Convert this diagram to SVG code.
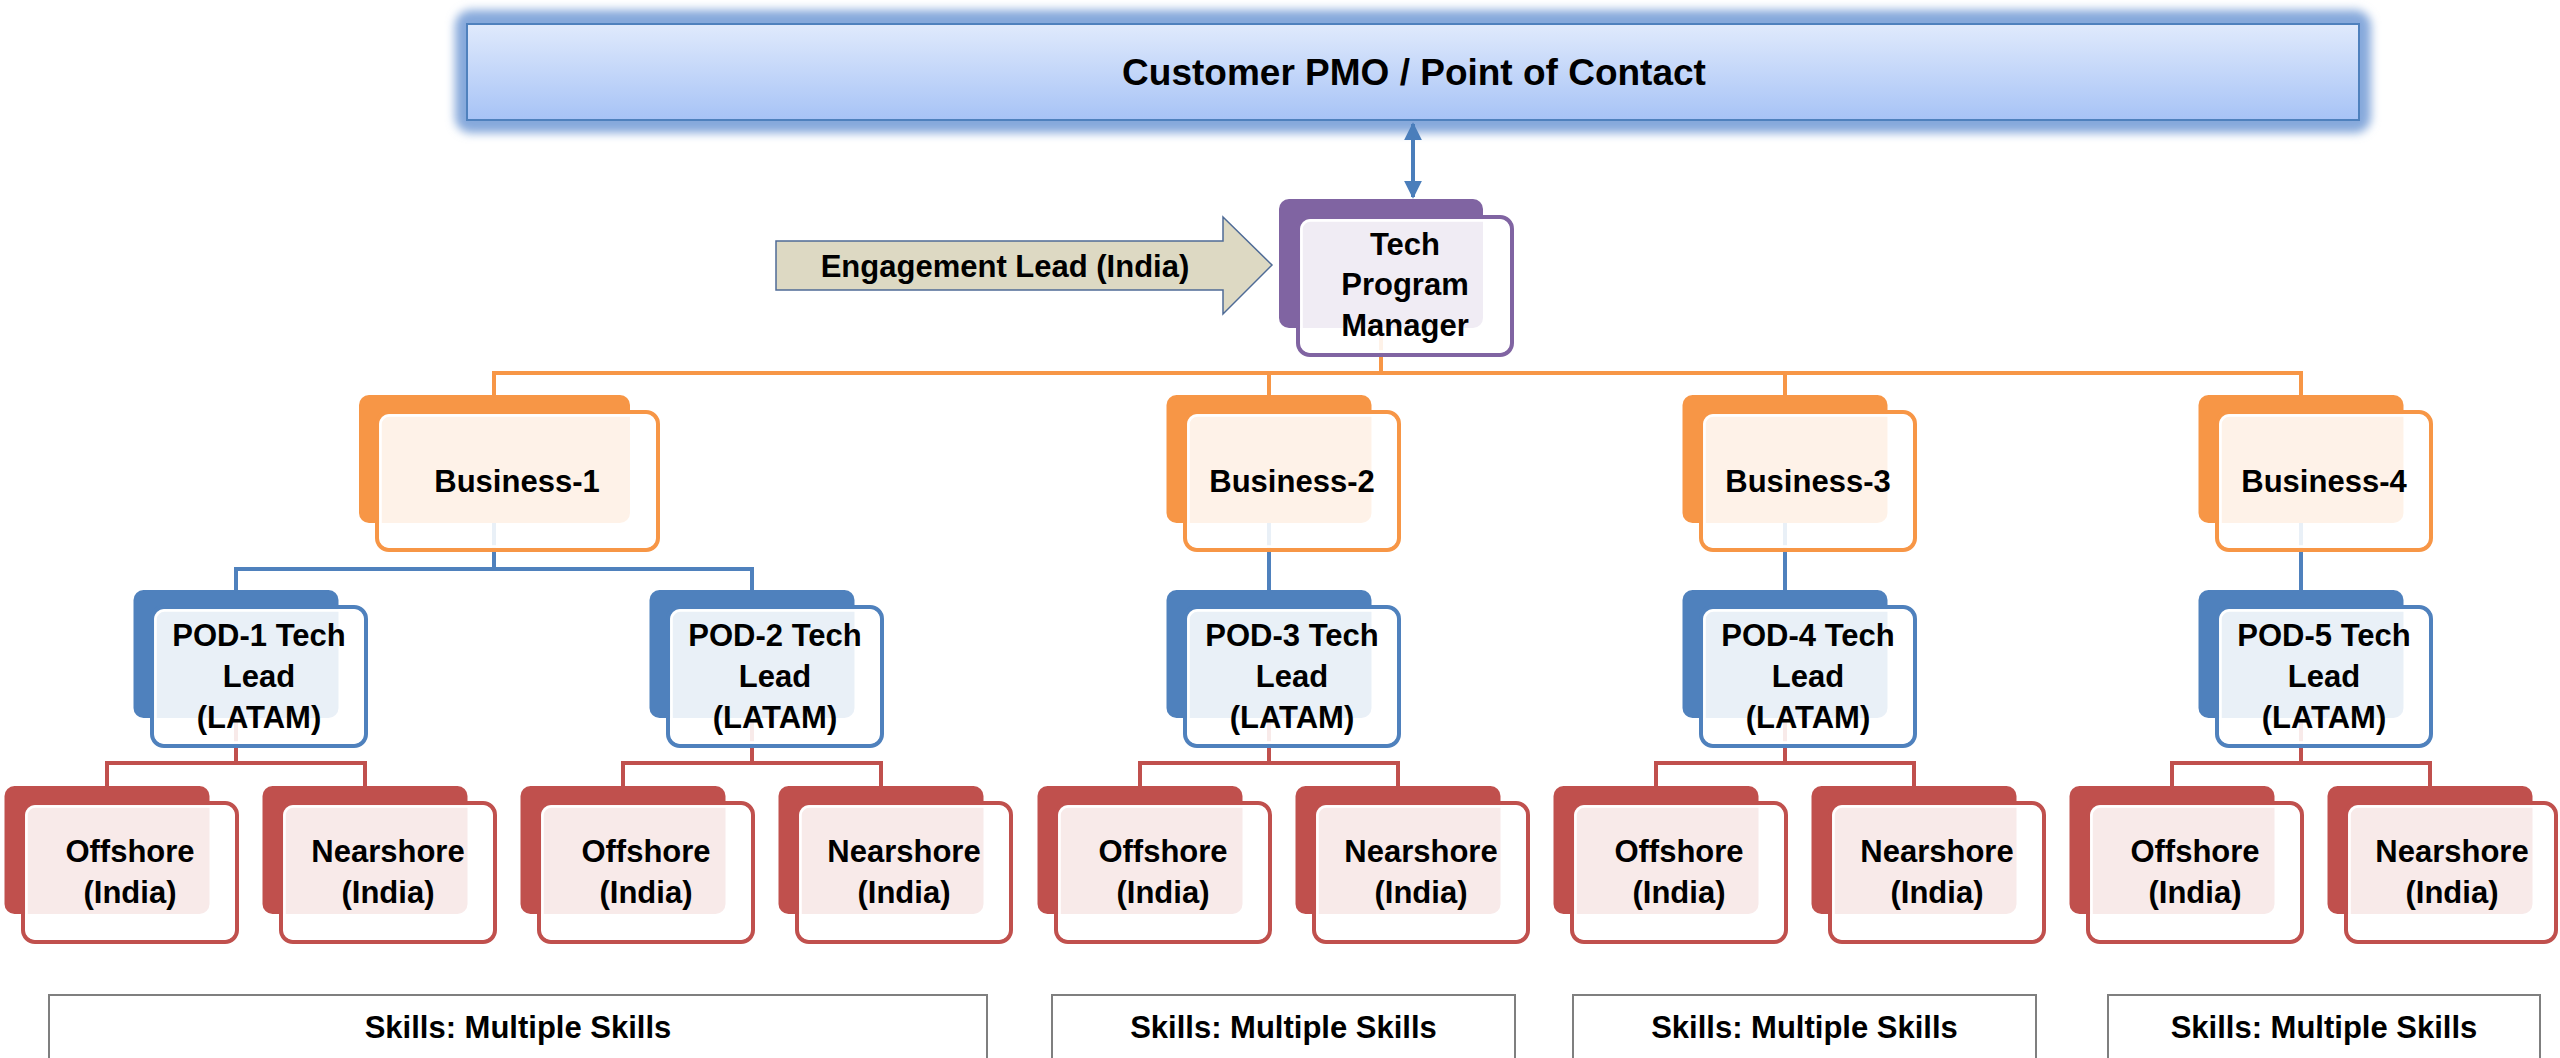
<svg xmlns="http://www.w3.org/2000/svg" width="2560" height="1058" viewBox="0 0 2560 1058">
<defs>
<linearGradient id="topg" x1="0" y1="0" x2="0" y2="1">
<stop offset="0" stop-color="#e0eafc"/>
<stop offset="1" stop-color="#a7c3f6"/>
</linearGradient>
<filter id="glow" x="-5%" y="-60%" width="110%" height="220%">
<feGaussianBlur stdDeviation="5"/>
</filter>
<marker id="ah" viewBox="0 0 10 10" refX="9" refY="5" markerWidth="4.5" markerHeight="4.5" orient="auto-start-reverse" markerUnits="strokeWidth">
<path d="M0,0 L10,5 L0,10 z" fill="#4a7ebb"/>
</marker>
<style>
.t{font-family:"Liberation Sans",Arial,sans-serif;font-weight:bold;font-size:31px;fill:#000;text-anchor:middle}
.back{stroke:none}
.front{stroke-width:4;fill:#fff;fill-opacity:0.88}
.inner{fill:none;stroke:#fff;stroke-width:2.5}
.or .back{fill:#f79646}.or .front{stroke:#f79646}
.bl .back{fill:#4f81bd}.bl .front{stroke:#4f81bd}
.rd .back{fill:#c0504d}.rd .front{stroke:#c0504d}
.pu .back{fill:#8064a2}.pu .front{stroke:#8064a2}
.c-or{stroke:#f79646;stroke-width:4;fill:none}
.c-bl{stroke:#4f81bd;stroke-width:4;fill:none}
.c-rd{stroke:#c0504d;stroke-width:4;fill:none}
.skill{fill:#fff;stroke:#7f7f7f;stroke-width:2}
</style>
</defs>
<rect width="2560" height="1058" fill="#fff"/>

<!-- top box -->
<g id="customer-pmo">
<rect x="455" y="10" width="1916" height="123" rx="16" fill="#86a9db" filter="url(#glow)"/>
<rect x="467" y="24" width="1892" height="96" fill="url(#topg)" stroke="#4f81bd" stroke-width="2"/>
<text class="t" x="1414" y="85" style="font-size:37px">Customer PMO / Point of Contact</text>
</g>

<!-- connectors -->
<g id="connectors">
<line x1="1413" y1="124" x2="1413" y2="197" stroke="#4a7ebb" stroke-width="4" marker-start="url(#ah)" marker-end="url(#ah)"/>
<path class="c-or" d="M1381,328 V373 M494,395 V373 H2301 V395 M1269,373 V395 M1785,373 V395"/>
<path class="c-bl" d="M494,523 V569 M236,590 V569 H752 V590 M1269,523 V590 M1785,523 V590 M2301,523 V590"/>
<path class="c-rd" d="M236,718 V763 M107,786 V763 H365 V786 M752,718 V763 M623,786 V763 H881 V786 M1269,718 V763 M1140,786 V763 H1398 V786 M1785,718 V763 M1656,786 V763 H1914 V786 M2301,718 V763 M2172,786 V763 H2430 V786"/>
</g>

<!-- engagement lead arrow -->
<g id="engagement-lead">
<path d="M776,241 H1223 V217 L1272,265 L1223,314 V290 H776 Z" fill="#ddd9c3" stroke="#4f6b96" stroke-width="1.5"/>
<text class="t" x="1005" y="277">Engagement Lead (India)</text>
</g>

<!-- TPM -->
<g id="tech-program-manager" class="pu">
<rect class="back" x="1279" y="199" width="204" height="129" rx="10"/>
<rect class="front" x="1298" y="217" width="214" height="138" rx="12"/>
<rect class="inner" x="1301.5" y="220.5" width="207" height="131" rx="9"/>
<text class="t" x="1405" y="255">Tech</text>
<text class="t" x="1405" y="295">Program</text>
<text class="t" x="1405" y="336">Manager</text>
</g>

<!-- Business nodes -->
<g id="business-1" class="or">
<rect class="back" x="359" y="395" width="271" height="128" rx="10"/>
<rect class="front" x="377" y="412" width="281" height="138" rx="12"/>
<rect class="inner" x="380.5" y="415.5" width="274" height="131" rx="9"/>
<text class="t" x="517" y="492">Business-1</text>
</g>
<g id="business-2" class="or">
<rect class="back" x="1166.5" y="395" width="205" height="128" rx="10"/>
<rect class="front" x="1185" y="412" width="214" height="138" rx="12"/>
<rect class="inner" x="1188.5" y="415.5" width="207" height="131" rx="9"/>
<text class="t" x="1292" y="492">Business-2</text>
</g>
<g id="business-3" class="or">
<rect class="back" x="1682.5" y="395" width="205" height="128" rx="10"/>
<rect class="front" x="1701" y="412" width="214" height="138" rx="12"/>
<rect class="inner" x="1704.5" y="415.5" width="207" height="131" rx="9"/>
<text class="t" x="1808" y="492">Business-3</text>
</g>
<g id="business-4" class="or">
<rect class="back" x="2198.5" y="395" width="205" height="128" rx="10"/>
<rect class="front" x="2217" y="412" width="214" height="138" rx="12"/>
<rect class="inner" x="2220.5" y="415.5" width="207" height="131" rx="9"/>
<text class="t" x="2324" y="492">Business-4</text>
</g>

<!-- POD nodes -->
<g id="pod-1" class="bl">
<rect class="back" x="133.5" y="590" width="205" height="128" rx="10"/>
<rect class="front" x="152" y="607" width="214" height="139" rx="12"/>
<rect class="inner" x="155.5" y="610.5" width="207" height="132" rx="9"/>
<text class="t" x="259" y="646">POD-1 Tech</text><text class="t" x="259" y="687">Lead</text><text class="t" x="259" y="728">(LATAM)</text>
</g>
<g id="pod-2" class="bl">
<rect class="back" x="649.5" y="590" width="205" height="128" rx="10"/>
<rect class="front" x="668" y="607" width="214" height="139" rx="12"/>
<rect class="inner" x="671.5" y="610.5" width="207" height="132" rx="9"/>
<text class="t" x="775" y="646">POD-2 Tech</text><text class="t" x="775" y="687">Lead</text><text class="t" x="775" y="728">(LATAM)</text>
</g>
<g id="pod-3" class="bl">
<rect class="back" x="1166.5" y="590" width="205" height="128" rx="10"/>
<rect class="front" x="1185" y="607" width="214" height="139" rx="12"/>
<rect class="inner" x="1188.5" y="610.5" width="207" height="132" rx="9"/>
<text class="t" x="1292" y="646">POD-3 Tech</text><text class="t" x="1292" y="687">Lead</text><text class="t" x="1292" y="728">(LATAM)</text>
</g>
<g id="pod-4" class="bl">
<rect class="back" x="1682.5" y="590" width="205" height="128" rx="10"/>
<rect class="front" x="1701" y="607" width="214" height="139" rx="12"/>
<rect class="inner" x="1704.5" y="610.5" width="207" height="132" rx="9"/>
<text class="t" x="1808" y="646">POD-4 Tech</text><text class="t" x="1808" y="687">Lead</text><text class="t" x="1808" y="728">(LATAM)</text>
</g>
<g id="pod-5" class="bl">
<rect class="back" x="2198.5" y="590" width="205" height="128" rx="10"/>
<rect class="front" x="2217" y="607" width="214" height="139" rx="12"/>
<rect class="inner" x="2220.5" y="610.5" width="207" height="132" rx="9"/>
<text class="t" x="2324" y="646">POD-5 Tech</text><text class="t" x="2324" y="687">Lead</text><text class="t" x="2324" y="728">(LATAM)</text>
</g>

<!-- Offshore / Nearshore -->
<g id="offshore-1" class="rd">
<rect class="back" x="4.5" y="786" width="205" height="128" rx="10"/>
<rect class="front" x="23" y="803" width="214" height="139" rx="12"/>
<rect class="inner" x="26.5" y="806.5" width="207" height="132" rx="9"/>
<text class="t" x="130" y="862">Offshore</text><text class="t" x="130" y="903">(India)</text>
</g>
<g id="nearshore-1" class="rd">
<rect class="back" x="262.5" y="786" width="205" height="128" rx="10"/>
<rect class="front" x="281" y="803" width="214" height="139" rx="12"/>
<rect class="inner" x="284.5" y="806.5" width="207" height="132" rx="9"/>
<text class="t" x="388" y="862">Nearshore</text><text class="t" x="388" y="903">(India)</text>
</g>
<g id="offshore-2" class="rd">
<rect class="back" x="520.5" y="786" width="205" height="128" rx="10"/>
<rect class="front" x="539" y="803" width="214" height="139" rx="12"/>
<rect class="inner" x="542.5" y="806.5" width="207" height="132" rx="9"/>
<text class="t" x="646" y="862">Offshore</text><text class="t" x="646" y="903">(India)</text>
</g>
<g id="nearshore-2" class="rd">
<rect class="back" x="778.5" y="786" width="205" height="128" rx="10"/>
<rect class="front" x="797" y="803" width="214" height="139" rx="12"/>
<rect class="inner" x="800.5" y="806.5" width="207" height="132" rx="9"/>
<text class="t" x="904" y="862">Nearshore</text><text class="t" x="904" y="903">(India)</text>
</g>
<g id="offshore-3" class="rd">
<rect class="back" x="1037.5" y="786" width="205" height="128" rx="10"/>
<rect class="front" x="1056" y="803" width="214" height="139" rx="12"/>
<rect class="inner" x="1059.5" y="806.5" width="207" height="132" rx="9"/>
<text class="t" x="1163" y="862">Offshore</text><text class="t" x="1163" y="903">(India)</text>
</g>
<g id="nearshore-3" class="rd">
<rect class="back" x="1295.5" y="786" width="205" height="128" rx="10"/>
<rect class="front" x="1314" y="803" width="214" height="139" rx="12"/>
<rect class="inner" x="1317.5" y="806.5" width="207" height="132" rx="9"/>
<text class="t" x="1421" y="862">Nearshore</text><text class="t" x="1421" y="903">(India)</text>
</g>
<g id="offshore-4" class="rd">
<rect class="back" x="1553.5" y="786" width="205" height="128" rx="10"/>
<rect class="front" x="1572" y="803" width="214" height="139" rx="12"/>
<rect class="inner" x="1575.5" y="806.5" width="207" height="132" rx="9"/>
<text class="t" x="1679" y="862">Offshore</text><text class="t" x="1679" y="903">(India)</text>
</g>
<g id="nearshore-4" class="rd">
<rect class="back" x="1811.5" y="786" width="205" height="128" rx="10"/>
<rect class="front" x="1830" y="803" width="214" height="139" rx="12"/>
<rect class="inner" x="1833.5" y="806.5" width="207" height="132" rx="9"/>
<text class="t" x="1937" y="862">Nearshore</text><text class="t" x="1937" y="903">(India)</text>
</g>
<g id="offshore-5" class="rd">
<rect class="back" x="2069.5" y="786" width="205" height="128" rx="10"/>
<rect class="front" x="2088" y="803" width="214" height="139" rx="12"/>
<rect class="inner" x="2091.5" y="806.5" width="207" height="132" rx="9"/>
<text class="t" x="2195" y="862">Offshore</text><text class="t" x="2195" y="903">(India)</text>
</g>
<g id="nearshore-5" class="rd">
<rect class="back" x="2327.5" y="786" width="205" height="128" rx="10"/>
<rect class="front" x="2346" y="803" width="210" height="139" rx="12"/>
<rect class="inner" x="2349.5" y="806.5" width="203" height="132" rx="9"/>
<text class="t" x="2452" y="862">Nearshore</text><text class="t" x="2452" y="903">(India)</text>
</g>

<!-- Skills boxes -->
<g id="skills-1"><rect class="skill" x="49" y="995" width="938" height="80"/><text class="t" x="518" y="1038">Skills: Multiple Skills</text></g>
<g id="skills-2"><rect class="skill" x="1052" y="995" width="463" height="80"/><text class="t" x="1283.5" y="1038">Skills: Multiple Skills</text></g>
<g id="skills-3"><rect class="skill" x="1573" y="995" width="463" height="80"/><text class="t" x="1804.5" y="1038">Skills: Multiple Skills</text></g>
<g id="skills-4"><rect class="skill" x="2108" y="995" width="432" height="80"/><text class="t" x="2324" y="1038">Skills: Multiple Skills</text></g>
</svg>
